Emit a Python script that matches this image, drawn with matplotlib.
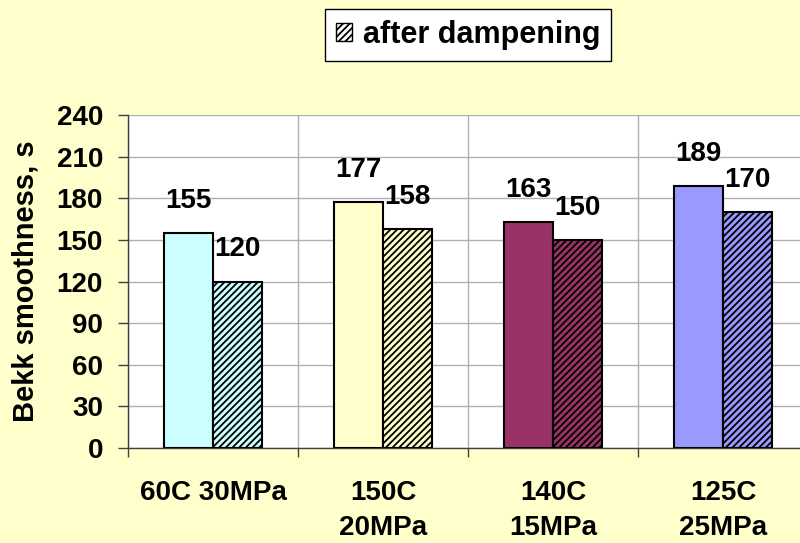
import matplotlib
matplotlib.use("Agg")
import matplotlib.pyplot as plt
from matplotlib.patches import Patch
import numpy as np

categories = ["60C 30MPa", "150C\n20MPa", "140C\n15MPa", "125C\n25MPa"]
before = [155, 177, 163, 189]
after = [120, 158, 150, 170]
colors = ["#CCFFFF", "#FFFFCC", "#993366", "#9999FF"]
yticks = [0, 30, 60, 90, 120, 150, 180, 210, 240]

plt.rcParams['font.family'] = ['Liberation Sans', 'DejaVu Sans']
plt.rcParams['font.weight'] = 'bold'
plt.rcParams['hatch.linewidth'] = 1.3
plt.rcParams['hatch.color'] = 'black'

fig = plt.figure(figsize=(8, 5.43), dpi=100)
fig.patch.set_facecolor('#FFFFCC')
ax = fig.add_axes([128/800, 1-448/543, 680/800, (448-115)/543])
ax.set_facecolor('white')

x = np.arange(len(categories))
w = 0.29
b1 = ax.bar(x - w/2, before, w, color=colors, edgecolor='black', linewidth=1.5, zorder=3)
b2 = ax.bar(x + w/2, after, w, color=colors, edgecolor='black', linewidth=1.5,
            hatch='/////', zorder=3)

for bars, vals in ((b1, before), (b2, after)):
    for r, v in zip(bars, vals):
        ax.annotate(str(v), (r.get_x() + r.get_width()/2, v), xytext=(0, 18),
                    textcoords='offset points', ha='center', va='baseline',
                    fontsize=20, fontweight='bold', zorder=5)

ax.set_xlim(-0.5, len(categories) - 0.5)
ax.set_ylim(0, 240)
ax.set_yticks(yticks)
ax.set_yticklabels([str(t) for t in yticks], fontsize=20, fontweight='bold')
ax.yaxis.grid(True, color='#B0B0B0', linewidth=1, zorder=0)
ax.set_xticks(np.arange(len(categories) + 1) - 0.5, minor=False)
ax.set_xticklabels([])
ax.xaxis.grid(True, color='#B0B0B0', linewidth=1, zorder=0)
ax.set_xticks(x, minor=True)
ax.set_xticklabels(categories, minor=True, fontsize=20, fontweight='bold',
                   linespacing=1.45, va='top')
ax.tick_params(axis='x', which='minor', length=0, pad=23)
ax.tick_params(axis='x', which='major', length=6.5, width=1, direction='out', color='#404040')
ax.tick_params(axis='y', length=7, width=1, direction='out', color='#404040', pad=11)
for s in ['top', 'right']:
    ax.spines[s].set_visible(False)
for s in ['left', 'bottom']:
    ax.spines[s].set_color('#404040')
    ax.spines[s].set_linewidth(1)

ax.set_ylabel("Bekk smoothness, s", fontsize=21, fontweight='bold', labelpad=12)

handle = Patch(facecolor='white', edgecolor='black', hatch='/////', linewidth=1)
leg = fig.legend([handle], ["after dampening"], loc='center',
                 bbox_to_anchor=(468/800, 1-35/543), frameon=True, fancybox=False,
                 edgecolor='black', facecolor='white', framealpha=1,
                 prop={'size': 22, 'weight': 'bold'}, handlelength=0.55,
                 handleheight=0.55, handletextpad=0.35, borderpad=0.35)
leg.get_frame().set_linewidth(1)

fig.savefig("out.png", dpi=100, facecolor=fig.get_facecolor())
